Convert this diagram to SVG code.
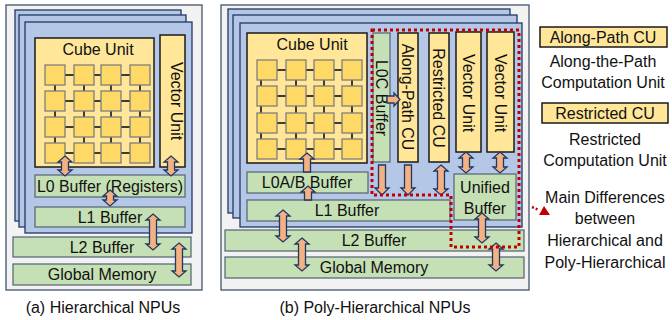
<svg xmlns="http://www.w3.org/2000/svg" width="672" height="320" viewBox="0 0 672 320">
<defs>
<style>
text{font-family:"Liberation Sans",Arial,sans-serif;font-size:16px;fill:#111;text-anchor:middle}
.outer{fill:#F2F2F2;stroke:#44546A;stroke-width:1.3}
.layer{fill:#B4C7E7;stroke:#1F3864;stroke-width:1.3}
.yel{fill:#FFE699;stroke:#1a1a1a;stroke-width:1.5}
.sq{fill:#FFD966;stroke:#7F7F7F;stroke-width:1.3}
.grn{fill:#C5E0B4;stroke:#5C6B7A;stroke-width:1.3}
.arr{fill:#F4B183;stroke:#1F3864;stroke-width:1.3;stroke-linejoin:miter}
.wire{stroke:#111;stroke-width:1.6}
.red{fill:none;stroke:#C00000;stroke-width:3;stroke-dasharray:3 3}
</style>
</defs>

<!-- Left panel -->
<g id="left-panel">
<rect class="outer" x="6" y="5" width="196" height="285"/>
<rect class="layer" x="15" y="10" width="166" height="211"/>
<rect class="layer" x="19" y="15" width="167" height="212"/>
<rect class="layer" x="25" y="22" width="167" height="211"/>
</g>
<g id="left-cube">
<rect class="yel" x="35" y="38" width="119" height="129"/>
<text x="98" y="55">Cube Unit</text>
<g class="wire">
<line x1="65" y1="75" x2="74" y2="75"/><line x1="94" y1="75" x2="101" y2="75"/><line x1="121" y1="75" x2="130" y2="75"/>
<line x1="65" y1="101" x2="74" y2="101"/><line x1="94" y1="101" x2="101" y2="101"/><line x1="121" y1="101" x2="130" y2="101"/>
<line x1="65" y1="127" x2="74" y2="127"/><line x1="94" y1="127" x2="101" y2="127"/><line x1="121" y1="127" x2="130" y2="127"/>
<line x1="65" y1="153" x2="74" y2="153"/><line x1="94" y1="153" x2="101" y2="153"/><line x1="121" y1="153" x2="130" y2="153"/>
<line x1="55" y1="85" x2="55" y2="91"/><line x1="84" y1="85" x2="84" y2="91"/><line x1="111" y1="85" x2="111" y2="91"/><line x1="140" y1="85" x2="140" y2="91"/>
<line x1="55" y1="111" x2="55" y2="117"/><line x1="84" y1="111" x2="84" y2="117"/><line x1="111" y1="111" x2="111" y2="117"/><line x1="140" y1="111" x2="140" y2="117"/>
<line x1="55" y1="137" x2="55" y2="143"/><line x1="84" y1="137" x2="84" y2="143"/><line x1="111" y1="137" x2="111" y2="143"/><line x1="140" y1="137" x2="140" y2="143"/>
</g>
<g class="sq">
<rect x="45" y="65" width="20" height="20"/><rect x="74" y="65" width="20" height="20"/><rect x="101" y="65" width="20" height="20"/><rect x="130" y="65" width="20" height="20"/>
<rect x="45" y="91" width="20" height="20"/><rect x="74" y="91" width="20" height="20"/><rect x="101" y="91" width="20" height="20"/><rect x="130" y="91" width="20" height="20"/>
<rect x="45" y="117" width="20" height="20"/><rect x="74" y="117" width="20" height="20"/><rect x="101" y="117" width="20" height="20"/><rect x="130" y="117" width="20" height="20"/>
<rect x="45" y="143" width="20" height="20"/><rect x="74" y="143" width="20" height="20"/><rect x="101" y="143" width="20" height="20"/><rect x="130" y="143" width="20" height="20"/>
</g>
</g>
<g id="left-vector">
<rect class="yel" x="160" y="35" width="25" height="132"/>
<text transform="translate(171,101) rotate(90)" x="0" y="0">Vector Unit</text>
</g>
<g id="left-l0"><rect class="grn" x="35" y="175" width="150" height="22"/><text x="110" y="192" textLength="146" lengthAdjust="spacingAndGlyphs">L0 Buffer (Registers)</text></g>
<g id="left-l1"><rect class="grn" x="35" y="207" width="150" height="20"/><text x="110" y="223">L1 Buffer</text></g>
<g id="left-l2"><rect class="grn" x="13" y="237" width="178" height="20"/><text x="102" y="253">L2 Buffer</text></g>
<g id="left-gm"><rect class="grn" x="13" y="264" width="178" height="21"/><text x="102" y="280">Global Memory</text></g>
<g id="caption-a"><text x="103" y="313">(a) Hierarchical NPUs</text></g>

<!-- Right panel -->
<g id="right-panel">
<rect class="outer" x="221" y="5" width="308" height="285"/>
<rect class="layer" x="228" y="9" width="282" height="204"/>
<rect class="layer" x="233" y="15" width="284" height="203"/>
<rect class="layer" x="240" y="23" width="282" height="204"/>
</g>
<g id="right-cube">
<rect class="yel" x="247" y="33" width="120" height="130"/>
<text x="312" y="50">Cube Unit</text>
<g class="wire">
<line x1="277" y1="70" x2="286" y2="70"/><line x1="306" y1="70" x2="314" y2="70"/><line x1="334" y1="70" x2="342" y2="70"/>
<line x1="277" y1="96" x2="286" y2="96"/><line x1="306" y1="96" x2="314" y2="96"/><line x1="334" y1="96" x2="342" y2="96"/>
<line x1="277" y1="123" x2="286" y2="123"/><line x1="306" y1="123" x2="314" y2="123"/><line x1="334" y1="123" x2="342" y2="123"/>
<line x1="277" y1="149" x2="286" y2="149"/><line x1="306" y1="149" x2="314" y2="149"/><line x1="334" y1="149" x2="342" y2="149"/>
<line x1="261" y1="80" x2="261" y2="86"/><line x1="296" y1="80" x2="296" y2="86"/><line x1="324" y1="80" x2="324" y2="86"/><line x1="352" y1="80" x2="352" y2="86"/>
<line x1="261" y1="106" x2="261" y2="113"/><line x1="296" y1="106" x2="296" y2="113"/><line x1="324" y1="106" x2="324" y2="113"/><line x1="352" y1="106" x2="352" y2="113"/>
<line x1="261" y1="133" x2="261" y2="139"/><line x1="296" y1="133" x2="296" y2="139"/><line x1="324" y1="133" x2="324" y2="139"/><line x1="352" y1="133" x2="352" y2="139"/>
</g>
<g class="sq">
<rect x="257" y="60" width="20" height="20"/><rect x="286" y="60" width="20" height="20"/><rect x="314" y="60" width="20" height="20"/><rect x="342" y="60" width="20" height="20"/>
<rect x="257" y="86" width="20" height="20"/><rect x="286" y="86" width="20" height="20"/><rect x="314" y="86" width="20" height="20"/><rect x="342" y="86" width="20" height="20"/>
<rect x="257" y="113" width="20" height="20"/><rect x="286" y="113" width="20" height="20"/><rect x="314" y="113" width="20" height="20"/><rect x="342" y="113" width="20" height="20"/>
<rect x="257" y="139" width="20" height="20"/><rect x="286" y="139" width="20" height="20"/><rect x="314" y="139" width="20" height="20"/><rect x="342" y="139" width="20" height="20"/>
</g>
</g>
<g id="right-l0c"><rect class="grn" x="373" y="33" width="17" height="129"/><text transform="translate(376,98) rotate(90)" x="0" y="0">L0C Buffer</text></g>
<g id="right-along"><rect class="yel" x="398" y="33" width="20" height="129"/><text transform="translate(402,97) rotate(90)" x="0" y="0">Along-Path CU</text></g>
<g id="right-restricted"><rect class="yel" x="429" y="33" width="20" height="129"/><text transform="translate(433,98) rotate(90)" x="0" y="0">Restricted CU</text></g>
<g id="right-vector1"><rect class="yel" x="456" y="32" width="25" height="120"/><text transform="translate(463,93) rotate(90)" x="0" y="0">Vector Unit</text></g>
<g id="right-vector2"><rect class="yel" x="487" y="32" width="27" height="120"/><text transform="translate(495,93) rotate(90)" x="0" y="0">Vector Unit</text></g>
<g id="right-unified"><rect class="grn" x="454" y="174" width="62" height="46"/><text x="485" y="193">Unified</text><text x="485" y="214">Buffer</text></g>
<g id="right-l0ab"><rect class="grn" x="247" y="172" width="121" height="21"/><text x="307" y="188">L0A/B Buffer</text></g>
<g id="right-l1"><rect class="grn" x="247" y="200" width="203" height="21"/><text x="347" y="216">L1 Buffer</text></g>
<g id="right-l2"><rect class="grn" x="225" y="230" width="299" height="21"/><text x="374" y="246">L2 Buffer</text></g>
<g id="right-gm"><rect class="grn" x="225" y="257" width="299" height="21"/><text x="374" y="273">Global Memory</text></g>
<g id="caption-b"><text x="375" y="313">(b) Poly-Hierarchical NPUs</text></g>

<!-- Legend -->
<g id="legend-along"><rect class="yel" x="540" y="27" width="127" height="20"/><text x="603" y="43">Along-Path CU</text><text x="603" y="67">Along-the-Path</text><text x="603" y="88">Computation Unit</text></g>
<g id="legend-restricted"><rect class="yel" x="542" y="103" width="126" height="20"/><text x="605" y="119">Restricted CU</text><text x="605" y="145">Restricted</text><text x="605" y="166">Computation Unit</text></g>
<g id="legend-diff"><text x="605" y="203">Main Differences</text><text x="605" y="224">between</text><text x="605" y="246">Hierarchical and</text><text x="605" y="268">Poly-Hierarchical</text></g>

<!-- Connectors -->
<g id="connectors">
<path class="arr" d="M65,156 L72,162 L68.5,162 L68.5,170 L72,170 L65,176 L58,170 L61.5,170 L61.5,162 L58,162 Z"/>
<path class="arr" d="M171,156 L178,162 L174.5,162 L174.5,170 L178,170 L171,176 L164,170 L167.5,170 L167.5,162 L164,162 Z"/>
<path class="arr" d="M110,190 L117,196 L113.5,196 L113.5,200 L117,200 L110,206 L103,200 L106.5,200 L106.5,196 L103,196 Z"/>
<path class="arr" d="M153,214 L160,220 L156.5,220 L156.5,244 L160,244 L153,250 L146,244 L149.5,244 L149.5,220 L146,220 Z"/>
<path class="arr" d="M179,243 L186,249 L182.5,249 L182.5,271 L186,271 L179,277 L172,271 L175.5,271 L175.5,249 L172,249 Z"/>

<path class="arr" d="M307,153 L314,159 L310.5,159 L310.5,172 L303.5,172 L303.5,159 L300,159 Z"/>
<path class="arr" d="M308,186 L315,192 L311.5,192 L311.5,200 L304.5,200 L304.5,192 L301,192 Z"/>
<path class="arr" d="M400,99.5 L394,93 L394,96 L387,96 L387,103 L394,103 L394,106 Z"/>
<path class="arr" d="M378.5,165 L385.5,165 L385.5,188 L389,188 L382,195 L375,188 L378.5,188 Z"/>
<path class="arr" d="M404.5,165 L411.5,165 L411.5,188 L415,188 L408,195 L401,188 L404.5,188 Z"/>
<path class="arr" d="M441,165 L448,171 L444.5,171 L444.5,189 L448,189 L441,195 L434,189 L437.5,189 L437.5,171 L434,171 Z"/>
<path class="arr" d="M466,152 L473,158 L469.5,158 L469.5,167 L473,167 L466,173 L459,167 L462.5,167 L462.5,158 L459,158 Z"/>
<path class="arr" d="M500,152 L507,158 L503.5,158 L503.5,167 L507,167 L500,173 L493,167 L496.5,167 L496.5,158 L493,158 Z"/>
<path class="arr" d="M482,213 L489,219 L485.5,219 L485.5,237 L489,237 L482,243 L475,237 L478.5,237 L478.5,219 L475,219 Z"/>
<path class="arr" d="M496,243 L503,249 L499.5,249 L499.5,265 L503,265 L496,271 L489,265 L492.5,265 L492.5,249 L489,249 Z"/>
<path class="arr" d="M283,210 L290,216 L286.5,216 L286.5,236 L290,236 L283,242 L276,236 L279.5,236 L279.5,216 L276,216 Z"/>
<path class="arr" d="M302,238 L309,244 L305.5,244 L305.5,265 L309,265 L302,271 L295,265 L298.5,265 L298.5,244 L295,244 Z"/>

<polygon class="red" points="372,30 519,30 519,247 451,247 451,195 372,195"/>
<line x1="532" y1="207" x2="539" y2="210" stroke="#C00000" stroke-width="2.5" stroke-dasharray="2 2"/>
<polygon points="539,215 550,215 544,206" fill="#C00000"/>
</g>
</svg>
